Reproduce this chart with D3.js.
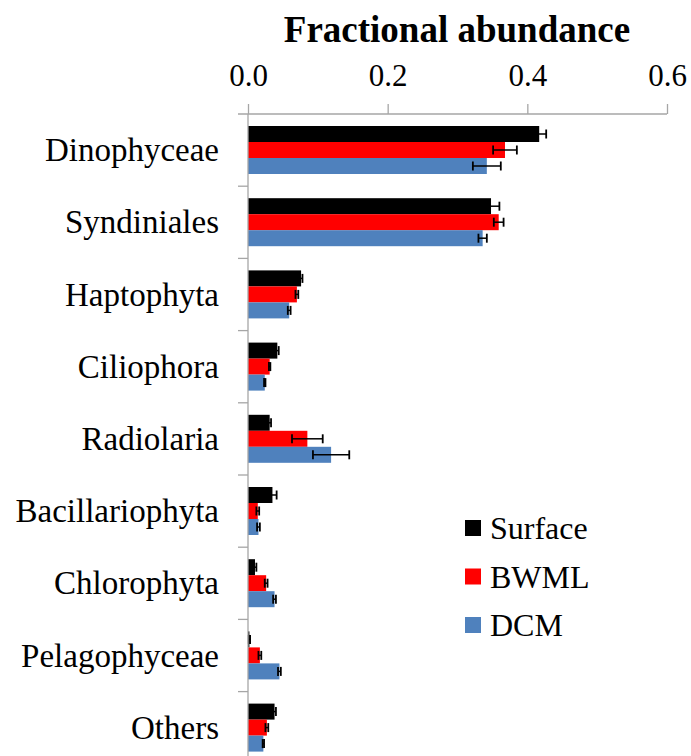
<!DOCTYPE html>
<html>
<head>
<meta charset="utf-8">
<script src="https://cdn.jsdelivr.net/npm/d3@7"></script>
<style>
  body { margin: 0; background: #fff; }
  text { font-family: "Liberation Serif", "Times New Roman", serif; fill: #000; }
</style>
</head>
<body>
<div class="chart"></div>
<script>
// data
var categories = ['Dinophyceae', 'Syndiniales', 'Haptophyta', 'Ciliophora', 'Radiolaria',
        'Bacillariophyta', 'Chlorophyta', 'Pelagophyceae', 'Others']
var seriesNames = ['Surface', 'BWML', 'DCM']
var surface    = [0.417, 0.348, 0.076, 0.042, 0.031, 0.035, 0.010, 0.002, 0.038]
var surfaceErr = [0.010, 0.012, 0.002, 0.002, 0.002, 0.006, 0.002, 0.001, 0.002]
var bwml       = [0.368, 0.359, 0.070, 0.031, 0.085, 0.014, 0.026, 0.017, 0.027]
var bwmlErr    = [0.017, 0.007, 0.002, 0.001, 0.022, 0.002, 0.002, 0.002, 0.002]
var dcm        = [0.342, 0.336, 0.059, 0.024, 0.119, 0.015, 0.038, 0.045, 0.022]
var dcmErr     = [0.020, 0.006, 0.002, 0.001, 0.026, 0.002, 0.002, 0.002, 0.001]
var xTicks = [0, 0.2, 0.4, 0.6]
var colors = ['#000000', '#FF0000', '#4F81BD']

var values = [surface, bwml, dcm]
var errors = [surfaceErr, bwmlErr, dcmErr]

var W = 691, H = 756
var svg = d3.select('.chart').append('svg')
    .attr('width', W)
    .attr('height', H)

// scales
var xScale = d3.scaleLinear().domain([0, 0.6]).range([248, 667])
var yBand = d3.scaleBand().domain(categories).range([114, 114 + 9 * 72.2]).padding(0)
var ySub = d3.scaleBand().domain(seriesNames).range([12, 60])

// title
svg.append('text')
    .attr('x', 457)
    .attr('y', 42)
    .attr('text-anchor', 'middle')
    .style('font-size', '37px')
    .style('font-weight', 'bold')
    .text('Fractional abundance')

// top axis
var xAxis = d3.axisTop(xScale)
    .tickValues(xTicks)
    .tickFormat(d3.format('.1f'))
    .tickSize(10)
    .tickSizeOuter(0)
    .tickPadding(18)

var xAx = svg.append('g')
    .attr('transform', 'translate(0,114)')
    .call(xAxis)
xAx.select('.domain').remove()
xAx.selectAll('line').attr('stroke', '#A6A6A6').attr('stroke-width', 1.3)
xAx.selectAll('text')
    .style('font-size', '31px')
    .style('font-family', '"Liberation Serif", serif')
    .attr('fill', '#000')
svg.append('line')
    .attr('x1', xScale(0) - 10).attr('x2', xScale(0.6))
    .attr('y1', 114).attr('y2', 114)
    .attr('stroke', '#A6A6A6').attr('stroke-width', 1.3)

// bars
var g = svg.append('g')
seriesNames.forEach(function(s, si) {
    var rows = categories.map(function(c, i) {
        return {cat: c, v: values[si][i], e: errors[si][i]}
    })
    g.selectAll('.bar-' + s).data(rows)
        .enter().append('rect')
        .attr('class', 'bar-' + s)
        .attr('x', xScale(0))
        .attr('y', function(d) { return yBand(d.cat) + ySub(s) })
        .attr('width', function(d) { return xScale(d.v) - xScale(0) })
        .attr('height', ySub.bandwidth())
        .attr('fill', colors[si])

    // error bars
    var eg = g.selectAll('.err-' + s).data(rows)
        .enter().append('g')
        .attr('class', 'err-' + s)
        .attr('transform', function(d) {
            return 'translate(0,' + (yBand(d.cat) + ySub(s) + ySub.bandwidth() / 2) + ')'
        })
    eg.append('line')
        .attr('x1', function(d) { return xScale(d.v - d.e) })
        .attr('x2', function(d) { return xScale(d.v + d.e) })
        .attr('stroke', '#000').attr('stroke-width', 1.5)
    eg.append('line')
        .attr('x1', function(d) { return xScale(d.v - d.e) })
        .attr('x2', function(d) { return xScale(d.v - d.e) })
        .attr('y1', -4.5).attr('y2', 4.5)
        .attr('stroke', '#000').attr('stroke-width', 1.8)
    eg.append('line')
        .attr('x1', function(d) { return xScale(d.v + d.e) })
        .attr('x2', function(d) { return xScale(d.v + d.e) })
        .attr('y1', -4.5).attr('y2', 4.5)
        .attr('stroke', '#000').attr('stroke-width', 1.8)
})

// left axis: line + ticks at category boundaries
var bounds = categories.map(function(c) { return yBand(c) }).concat([yBand.range()[1]])
svg.append('line')
    .attr('x1', xScale(0)).attr('x2', xScale(0))
    .attr('y1', 114).attr('y2', yBand.range()[1])
    .attr('stroke', '#A6A6A6').attr('stroke-width', 1.3)
svg.selectAll('.ytick').data(bounds.slice(1))
    .enter().append('line')
    .attr('class', 'ytick')
    .attr('x1', xScale(0) - 10).attr('x2', xScale(0))
    .attr('y1', function(d) { return d }).attr('y2', function(d) { return d })
    .attr('stroke', '#A6A6A6').attr('stroke-width', 1.3)

svg.selectAll('.ylabel').data(categories)
    .enter().append('text')
    .attr('class', 'ylabel')
    .attr('x', 219)
    .attr('y', function(d) { return yBand(d) + yBand.bandwidth() / 2 + 11 })
    .attr('text-anchor', 'end')
    .style('font-size', '33px')
    .text(function(d) { return d })

// legend
var leg = svg.append('g').attr('transform', 'translate(465,528)')
seriesNames.forEach(function(s, i) {
    var row = leg.append('g').attr('transform', 'translate(0,' + (i * 48.5) + ')')
    row.append('rect')
        .attr('x', 0).attr('y', -8)
        .attr('width', 16).attr('height', 16)
        .attr('fill', colors[i])
    row.append('text')
        .attr('x', 25).attr('y', 11)
        .style('font-size', '32px')
        .text(s)
})
</script>
</body>
</html>
